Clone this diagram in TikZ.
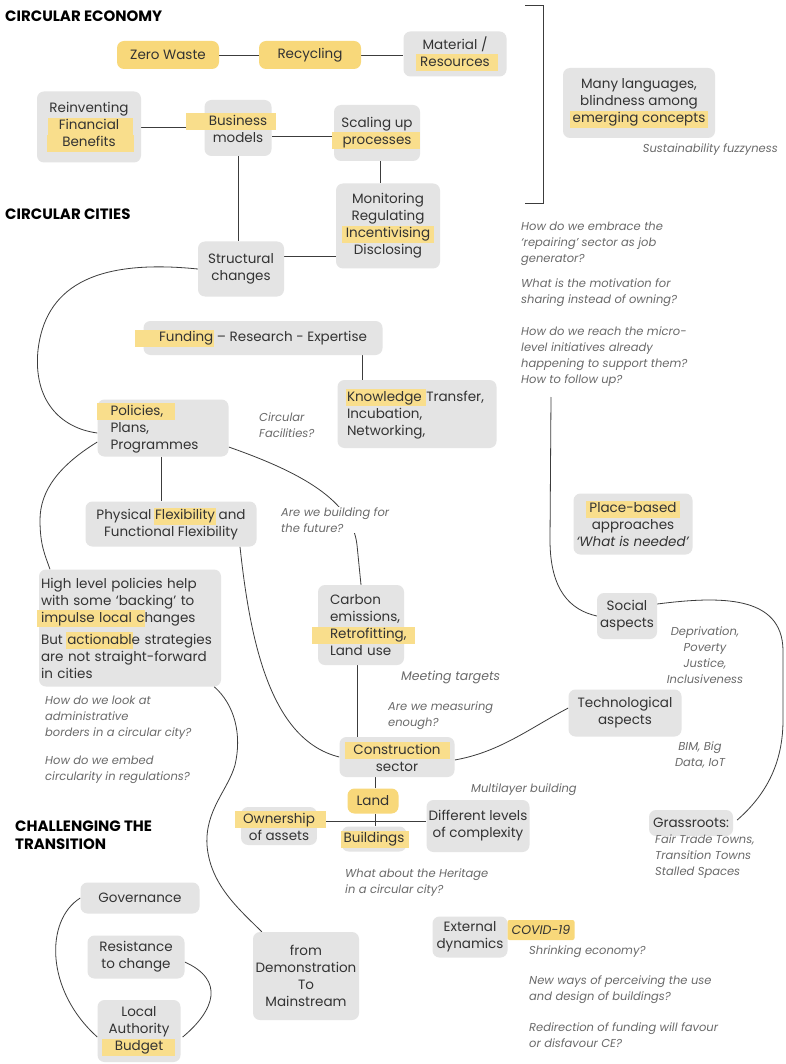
\documentclass[tikz,border=0pt]{standalone}
\usepackage{fontspec}
\setmainfont{Poppins}
\usetikzlibrary{backgrounds}

\definecolor{boxgrey}{HTML}{E4E4E4}
\definecolor{boxyel}{HTML}{F8D87A}
\definecolor{hlyel}{HTML}{F9DE8C}
\definecolor{txtcol}{HTML}{333333}
\definecolor{notecol}{HTML}{6A6A6A}
\definecolor{linecol}{HTML}{3C3C3C}

\setlength{\fboxsep}{0pt}
\hyphenpenalty=10000
\NewDocumentCommand\hl{O{2pt}O{2pt}m}{\strut\smash{\kern-#1\colorbox{hlyel}{\kern#1\strut#3\kern#2}\kern-#2}}

\begin{document}
\begin{tikzpicture}[x=1pt, y=-1pt,
		box/.style={fill=boxgrey, rounded corners=7pt, text=txtcol, align=center, inner sep=2pt, font=\fontsize{13.5}{17}\selectfont},
		ybox/.style={box, fill=boxyel},
		note/.style={text=notecol, align=left, inner sep=1pt, font=\fontsize{11.5}{16}\selectfont\itshape},
		heading/.style={anchor=west, align=left, text=black, inner sep=0pt, font=\fontsize{15}{18}\selectfont\bfseries},
		link/.style={draw=linecol, line width=0.8pt}]
				\useasboundingbox (0,0) rectangle (785,1064);
				
				% headings
				\node[heading] (hecon) at (5,16) {CIRCULAR ECONOMY};
				\node[heading] (hcity) at (5,214) {CIRCULAR CITIES};
				\node[heading] (htrans) at (15,835) {CHALLENGING THE\\TRANSITION};
				
				% circular economy
				\node[ybox, minimum width=102pt, minimum height=28pt] (zero) at (168,55) {Zero Waste};
				\node[ybox, minimum width=102pt, minimum height=28pt] (recyc) at (310,55) {Recycling};
				\node[box, minimum width=103pt, minimum height=45pt] (mater) at (455,54) {Material /\\\hl[4pt][8pt]{Resources}};
				\node[box, minimum width=104pt, minimum height=71pt] (reinv) at (89,127) {Reinventing\\\hl[11pt][14pt]{Financial}\\\hl[15pt][18pt]{Benefits}};
				\node[box, minimum width=67pt, minimum height=56pt] (busin) at (238,128) {\hl[23pt][9pt]{Business}\\models};
				\node[box, minimum width=86pt, minimum height=56pt] (scale) at (377,133) {Scaling up\\\hl[11pt][9pt]{processes}};
				\node[box, minimum width=104pt, minimum height=85pt] (monit) at (388,226) {Monitoring\\Regulating\\\hl[4pt][4pt]{Incentivising}\\Disclosing};
				\node[box, minimum width=86pt, minimum height=55pt] (struct) at (241,269) {Structural\\changes};
				\node[box, minimum width=152pt, minimum height=70pt] (langs) at (639,103) {Many languages,\\blindness among\\\hl[3pt][3pt]{emerging concepts}};
				\node[note, anchor=east] (fuzzy) at (779,150) {Sustainability fuzzyness};
				
				% circular cities
				\node[box, minimum width=239pt, minimum height=34pt] (fund) at (263,338) {\hl[24pt][1pt]{Funding} – Research - Expertise};
				\node[box, align=left, text width=140pt, minimum width=159pt, minimum height=68pt] (knowl) at (417,414) {\hl[1pt][4pt]{Knowledge} Transfer,\\Incubation,\\Networking,};
				\node[box, align=left, text width=105pt, minimum width=131pt, minimum height=57pt] (polic) at (163,428) {\hl[14pt][12pt]{Policies,}\\Plans,\\Programmes};
				\node[note, anchor=west] (circf) at (258,425) {Circular\\Facilities?};
				\node[box, minimum width=171pt, minimum height=45pt] (phys) at (171,524) {Physical \hl[1pt][1pt]{Flexibility} and\\Functional Flexibility};
				\node[note, anchor=west, fill=white] (futur) at (280,520) {Are we building for\\the future?};
				\node[box, align=left, text width=178pt, minimum width=181pt, minimum height=117pt] (highl) at (130,628) {High level policies help\\with some ‘backing’ to\\\hl[4pt][0pt]{impulse local c}hanges\\[5pt]But \hl[1pt][1pt]{actionabl}e strategies\\are not straight-forward\\in cities};
				\node[note, anchor=west] (admin) at (44,718) {How do we look at\\administrative\\borders in a circular city?};
				\node[note, anchor=west] (embed) at (44,770) {How do we embed\\circularity in regulations?};
				\node[box, align=left, text width=62pt, minimum width=86pt, minimum height=80pt] (carb) at (361,625) {Carbon\\emissions,\\\hl[18pt][8pt]{Retrofitting,}\\Land use};
				\node[note, anchor=west, font=\fontsize{12.5}{16}\selectfont\itshape] (meet) at (400,677) {Meeting targets};
				\node[note, anchor=west] (measr) at (387,716) {Are we measuring\\enough?};
				\node[box, minimum width=115pt, minimum height=40pt] (constr) at (397,757) {\hl[8pt][9pt]{Construction}\\sector};
				\node[ybox, minimum width=51pt, minimum height=25pt] (land) at (373,801) {Land};
				\node[box, minimum width=63pt, minimum height=25pt] (build) at (374,839) {\hl[3pt][5pt]{Buildings}};
				\node[box, minimum width=75pt, minimum height=38pt] (owner) at (279,826) {\hl[8pt][11pt]{Ownership}\\of assets};
				\node[box, minimum width=103pt, minimum height=52pt] (diffl) at (478,826) {Different levels\\of complexity};
				\node[note, anchor=west] (multi) at (470,790) {Multilayer building};
				\node[note, anchor=west] (herit) at (344,883) {What about the Heritage\\in a circular city?};
				
				% right column
				\node[note, anchor=west] (quest1) at (520,244) {How do we embrace the\\‘repairing’ sector as job\\generator?};
				\node[note, anchor=west] (quest2) at (520,293) {What is the motivation for\\sharing instead of owning?};
				\node[note, anchor=west] (quest3) at (520,357) {How do we reach the micro-\\level initiatives already\\happening to support them?\\How to follow up?};
				\node[box, minimum width=119pt, minimum height=61pt] (place) at (633,524) {\hl[3pt][3pt]{Place-based}\\approaches\\\textit{‘What is needed’}};
				\node[box, minimum width=60pt, minimum height=46pt] (social) at (627,616) {Social\\aspects};
				\node[note, align=center] (depriv) at (705,655) {Deprivation,\\Poverty\\Justice,\\Inclusiveness};
				\node[box, minimum width=113pt, minimum height=47pt] (techn) at (625,713) {Technological\\aspects};
				\node[note, align=center] (bimdt) at (700,755) {BIM, Big\\Data, IoT};
				\node[box, minimum width=84pt, minimum height=26pt] (grass) at (691,823) {Grassroots:};
				\node[note, anchor=north west] (fairt) at (654,834) {Fair Trade Towns,\\Transition Towns\\Stalled Spaces};
				
				% challenging the transition
				\node[box, minimum width=75pt, minimum height=41pt] (extdyn) at (470,937) {External\\dynamics};
				\node[ybox, rounded corners=2pt, minimum width=67pt, minimum height=20pt, font=\fontsize{12.5}{15}\selectfont\itshape] (covid) at (541,930) {COVID-19};
				\node[note, anchor=west] (shrink) at (528,952) {Shrinking economy?};
				\node[note, anchor=west] (newway) at (528,990) {New ways of perceiving the use\\and design of buildings?};
				\node[note, anchor=west] (redir) at (528,1035) {Redirection of funding will favour\\or disfavour CE?};
				\node[box, minimum width=106pt, minimum height=88pt] (demo) at (306,976) {from\\Demonstration\\To\\Mainstream};
				\node[box, minimum width=119pt, minimum height=31pt] (gover) at (140,898) {Governance};
				\node[box, minimum width=97pt, minimum height=43pt] (resist) at (136,957) {Resistance\\to change};
				\node[box, minimum width=83pt, minimum height=62pt] (local) at (139,1031) {Local\\Authority\\\hl[13pt][12pt]{Budget}};
				
				\coordinate (qend) at (551,397);
				
				\begin{scope}[on background layer]
				\fill[white] (0,0) rectangle (785,1064);
				\draw[link] (525,5) -- (543,5) -- (543,203) -- (525,203);
				\draw[link] (zero.east) -- (recyc.west);
				\draw[link] (recyc.east) -- (recyc.east -| mater.west);
				\draw[link] (reinv.east) -- (reinv.east -| busin.west);
				\draw[link] ([yshift=-8pt]busin.east) -- ([yshift=-8pt]busin.east -| scale.west);
				\draw[link] ([xshift=3pt]scale.south) -- ([xshift=3pt]scale.south |- monit.north);
				\draw[link] (busin.south) -- (busin.south |- struct.north);
				\draw[link] ([yshift=13pt]struct.east) -- ([yshift=13pt]struct.east -| monit.west);
				\draw[link] (struct.west) .. controls (90,258) and (45,290) .. (38,350) .. controls (33,400) and (60,428) .. ([yshift=-5pt]polic.west);
				\draw[link] ([xshift=99pt]fund.south) -- ([xshift=99pt]fund.south |- knowl.north);
				\draw[link] ([xshift=-2pt]polic.south) -- ([xshift=-2pt]polic.south |- phys.north);
				\draw[link] ([yshift=-19pt]polic.east) .. controls (300,472) and (352,500) .. (357,545) -- (carb.north);
				\draw[link] ([yshift=-14pt]polic.west) .. controls (60,465) and (40,490) .. (40,520) .. controls (40,545) and (45,555) .. (highl.north -| 50,0);
				\draw[link] ([xshift=69pt]phys.south) .. controls (250,640) and (270,740) .. (constr.west);
				\draw[link] ([xshift=-4pt]carb.south) -- ([xshift=-4pt]carb.south |- constr.north);
				\draw[link] ([yshift=-3pt]constr.east) .. controls (500,752) and (530,728) .. ([yshift=5pt]techn.west);
				\draw[link] ([xshift=2pt]land.north) -- ([xshift=2pt]land.north |- constr.south);
				\draw[link] ([xshift=2pt]land.south) -- ([xshift=2pt]land.south |- build.north);
				\draw[link] ([yshift=5pt]owner.east) -- ([yshift=5pt]owner.east -| diffl.west);
				\draw[link] ([xshift=-7pt]highl.south east) .. controls (235,705) and (242,735) .. (235,765) .. controls (228,790) and (205,810) .. (207,845) .. controls (210,885) and (240,910) .. ([xshift=9pt]demo.north west);
				\draw[link] (gover.west) .. controls (45,920) and (45,990) .. ([yshift=-6pt]local.west);
				\draw[link] ([yshift=-5pt]resist.east) .. controls (225,980) and (215,1010) .. ([xshift=2pt, yshift=-6pt]local.east);
				\draw[link] (qend) -- (550,540) .. controls (550,590) and (570,610) .. (social.west);
				\draw[link] ([yshift=12pt]social.east) .. controls (720,596) and (782,595) .. (783,650) -- (783,720) .. controls (783,770) and (760,800) .. ([xshift=4pt, yshift=3pt]grass.east);
				\end{scope}
			\end{tikzpicture}
\end{document}
